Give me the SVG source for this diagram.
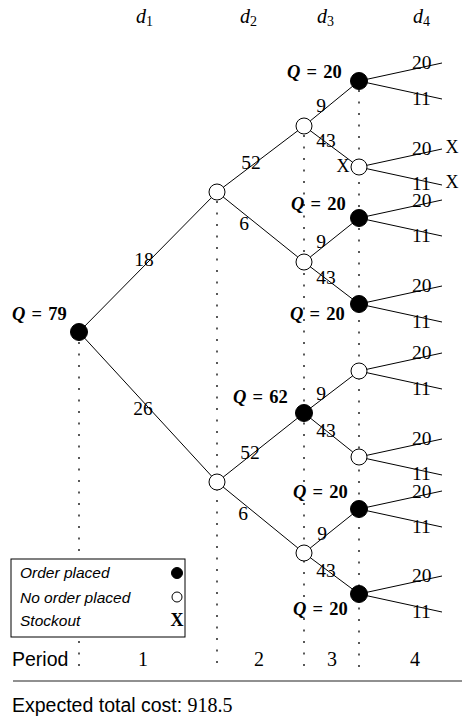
<svg xmlns="http://www.w3.org/2000/svg" width="462" height="717" viewBox="0 0 462 717">
<style>
.dot{stroke:#000;stroke-width:1.3;stroke-dasharray:2 9.5;fill:none}
.edge{stroke:#000;stroke-width:1;fill:none}
.full{fill:#000;stroke:#000;stroke-width:1}
.open{fill:#fff;stroke:#000;stroke-width:1}
.num{font-family:"Liberation Serif",serif;font-size:19.5px;fill:#000}
.q{font-family:"Liberation Serif",serif;font-size:18.5px;font-weight:bold;fill:#000;word-spacing:1.5px}
.qi{font-style:italic}
.hd{font-family:"Liberation Serif",serif;font-size:20px;font-style:italic;fill:#000}
.sub{font-size:14px;font-style:normal}
.leg{font-family:"Liberation Sans",sans-serif;font-size:15.5px;font-style:italic;fill:#000}
.sans{font-family:"Liberation Sans",sans-serif;font-size:19.5px;fill:#000}
.ser{font-family:"Liberation Serif",serif;font-size:20px;fill:#000}
.x{font-family:"Liberation Serif",serif;font-size:18px;fill:#000}
</style>
<g id="header">
<text class="hd" x="136" y="23">d<tspan class="sub" dy="3">1</tspan></text>
<text class="hd" x="240" y="23">d<tspan class="sub" dy="3">2</tspan></text>
<text class="hd" x="317" y="23">d<tspan class="sub" dy="3">3</tspan></text>
<text class="hd" x="413" y="23">d<tspan class="sub" dy="3">4</tspan></text>
</g>
<g id="period-lines">
<line class="dot" x1="79" y1="342" x2="79" y2="672"/>
<line class="dot" x1="217" y1="201" x2="217" y2="672"/>
<line class="dot" x1="304" y1="135" x2="304" y2="672"/>
<line class="dot" x1="359" y1="90" x2="359" y2="672"/>
</g>
<g id="connectors">
<line class="edge" x1="79" y1="332" x2="217" y2="192"/>
<line class="edge" x1="79" y1="332" x2="217" y2="482"/>
<line class="edge" x1="217" y1="192" x2="304" y2="126"/>
<line class="edge" x1="217" y1="192" x2="304" y2="262"/>
<line class="edge" x1="217" y1="482" x2="304" y2="413"/>
<line class="edge" x1="217" y1="482" x2="304" y2="553"/>
<line class="edge" x1="304" y1="126" x2="359" y2="81"/>
<line class="edge" x1="304" y1="126" x2="359" y2="167"/>
<line class="edge" x1="304" y1="262" x2="359" y2="218"/>
<line class="edge" x1="304" y1="262" x2="359" y2="304"/>
<line class="edge" x1="304" y1="413" x2="359" y2="371"/>
<line class="edge" x1="304" y1="413" x2="359" y2="457"/>
<line class="edge" x1="304" y1="553" x2="359" y2="509"/>
<line class="edge" x1="304" y1="553" x2="359" y2="594"/>
<path class="edge" d="M359 81L442 63M359 81L442 99M359 167L442 149M359 167L442 185M359 218L442 200M359 218L442 236M359 304L442 286M359 304L442 322M359 371L442 353M359 371L442 389M359 457L442 439M359 457L442 475M359 509L442 491M359 509L442 527M359 594L442 576M359 594L442 612"/>
</g>
<g id="edge-labels">
<text class="num" x="144" y="266" text-anchor="middle">18</text>
<text class="num" x="143" y="415" text-anchor="middle">26</text>
<text class="num" x="251" y="169" text-anchor="middle">52</text>
<text class="num" x="244" y="230" text-anchor="middle">6</text>
<text class="num" x="250" y="459" text-anchor="middle">52</text>
<text class="num" x="243" y="520" text-anchor="middle">6</text>
<text class="num" x="321" y="112" text-anchor="middle">9</text>
<text class="num" x="326" y="147" text-anchor="middle">43</text>
<text class="num" x="321" y="248" text-anchor="middle">9</text>
<text class="num" x="326" y="284" text-anchor="middle">43</text>
<text class="num" x="321" y="400" text-anchor="middle">9</text>
<text class="num" x="326" y="437" text-anchor="middle">43</text>
<text class="num" x="322" y="540" text-anchor="middle">9</text>
<text class="num" x="326" y="577" text-anchor="middle">43</text>
</g>
<g id="leaf-labels">
<text class="num" x="412" y="69">20</text><text class="num" x="412" y="105">11</text>
<text class="num" x="412" y="155">20</text><text class="num" x="412" y="190">11</text>
<text class="num" x="412" y="207">20</text><text class="num" x="412" y="242">11</text>
<text class="num" x="412" y="292">20</text><text class="num" x="412" y="328">11</text>
<text class="num" x="412" y="359">20</text><text class="num" x="412" y="395">11</text>
<text class="num" x="412" y="445">20</text><text class="num" x="412" y="480">11</text>
<text class="num" x="412" y="498">20</text><text class="num" x="412" y="533">11</text>
<text class="num" x="412" y="582">20</text><text class="num" x="412" y="618">11</text>
</g>
<g id="stockouts">
<text class="x" x="343" y="172" text-anchor="middle">X</text>
<text class="x" x="452" y="153" text-anchor="middle">X</text>
<text class="x" x="452" y="188" text-anchor="middle">X</text>
</g>
<g id="n0"><circle class="full" cx="79" cy="332" r="8.5"/><text class="q" x="12" y="320"><tspan class="qi">Q</tspan> = 79</text></g>
<g id="n1"><circle class="open" cx="217" cy="192" r="8"/></g>
<g id="n2"><circle class="open" cx="217" cy="482" r="8"/></g>
<g id="n3"><circle class="open" cx="304" cy="126" r="8"/></g>
<g id="n4"><circle class="open" cx="304" cy="262" r="8"/></g>
<g id="n5"><circle class="full" cx="304" cy="413" r="8.5"/><text class="q" x="233" y="403"><tspan class="qi">Q</tspan> = 62</text></g>
<g id="n6"><circle class="open" cx="304" cy="553" r="8"/></g>
<g id="n7"><circle class="full" cx="359" cy="81" r="8.5"/><text class="q" x="287" y="78"><tspan class="qi">Q</tspan> = 20</text></g>
<g id="n8"><circle class="open" cx="359" cy="167" r="8"/></g>
<g id="n9"><circle class="full" cx="359" cy="218" r="8.5"/><text class="q" x="291" y="210"><tspan class="qi">Q</tspan> = 20</text></g>
<g id="n10"><circle class="full" cx="359" cy="304" r="8.5"/><text class="q" x="290" y="320"><tspan class="qi">Q</tspan> = 20</text></g>
<g id="n11"><circle class="open" cx="359" cy="371" r="8"/></g>
<g id="n12"><circle class="open" cx="359" cy="457" r="8"/></g>
<g id="n13"><circle class="full" cx="359" cy="509" r="8.5"/><text class="q" x="293" y="498"><tspan class="qi">Q</tspan> = 20</text></g>
<g id="n14"><circle class="full" cx="359" cy="594" r="8.5"/><text class="q" x="293" y="615"><tspan class="qi">Q</tspan> = 20</text></g>
<g id="legend">
<rect x="11" y="559" width="174" height="78" fill="#fff" stroke="#000" stroke-width="1"/>
<text class="leg" x="20" y="578">Order placed</text>
<text class="leg" x="20" y="603">No order placed</text>
<text class="leg" x="20" y="626">Stockout</text>
<circle class="full" cx="177" cy="573" r="5.5"/>
<circle class="open" cx="177" cy="597" r="5"/>
<text class="x" x="177" y="626" text-anchor="middle" font-weight="bold">X</text>
</g>
<g id="footer">
<text class="sans" x="12" y="666">Period</text>
<text class="ser" x="143" y="666" text-anchor="middle">1</text>
<text class="ser" x="259" y="666" text-anchor="middle">2</text>
<text class="ser" x="332" y="666" text-anchor="middle">3</text>
<text class="ser" x="415" y="666" text-anchor="middle">4</text>
<line x1="13" y1="681" x2="462" y2="681" stroke="#222" stroke-width="1.2"/>
<text class="sans" x="12" y="712" font-size="20.5px">Expected total cost: <tspan class="ser" font-size="21px">918.5</tspan></text>
</g>
</svg>
